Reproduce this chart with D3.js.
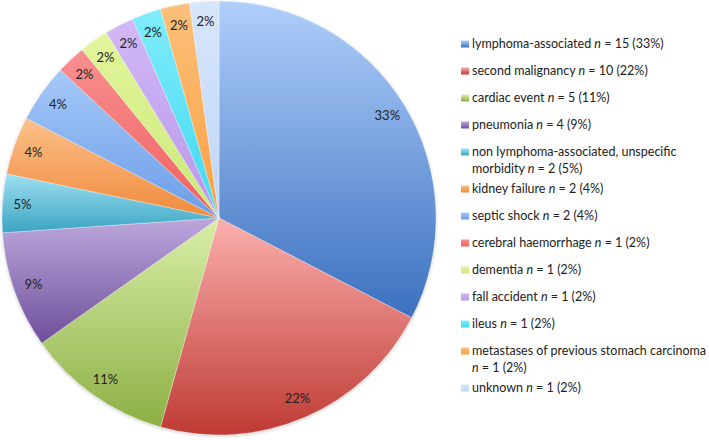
<!DOCTYPE html>
<html><head><meta charset="utf-8">
<script src="https://cdn.jsdelivr.net/npm/d3@7"></script>
<style>body{margin:0;background:#fff}svg{display:block}</style>
</head><body>
<svg id="c" width="709" height="440"></svg>
<script>
const categories = ["lymphoma-associated","second malignancy","cardiac event","pneumonia","non lymphoma-associated, unspecific morbidity","kidney failure","septic shock","cerebral haemorrhage","dementia","fall accident","ileus","metastases of previous stomach carcinoma","unknown"];
const counts = [15,10,5,4,2,2,2,1,1,1,1,1,1];
const percentLabels = ["33%","22%","11%","9%","5%","4%","4%","2%","2%","2%","2%","2%","2%"];
// legend text lines: [before n, n, after n]
const legendLines = [
  [["lymphoma-associated ","n"," = 15 (33%)"]],
  [["second malignancy ","n"," = 10 (22%)"]],
  [["cardiac event ","n"," = 5 (11%)"]],
  [["pneumonia ","n"," = 4 (9%)"]],
  [["non lymphoma-associated, unspecific"],["morbidity ","n"," = 2 (5%)"]],
  [["kidney failure ","n"," = 2 (4%)"]],
  [["septic shock ","n"," = 2 (4%)"]],
  [["cerebral haemorrhage ","n"," = 1 (2%)"]],
  [["dementia ","n"," = 1 (2%)"]],
  [["fall accident ","n"," = 1 (2%)"]],
  [["ileus ","n"," = 1 (2%)"]],
  [["metastases of previous stomach carcinoma"],["","n"," = 1 (2%)"]],
  [["unknown ","n"," = 1 (2%)"]]
];
const colorsTop = ["#b0cffb","#fbb0ae","#d9efa8","#bca8dc","#9fe0f2","#fcc08a","#a6c8f8","#f89090","#e2f59c","#d2b8f6","#80ecfb","#fdc07a","#d6e6fb"];
const colorsBot = ["#3b70bf","#bf3a34","#8caf45","#6e4f9a","#3ba4c2","#f08a3c","#6a9ee8","#f06060","#cbe878","#b898ea","#40d8f0","#f8a040","#c0d6f6"];

const svg = d3.select("#c");
const defs = svg.append("defs");
const cx = 219, cy = 218, R = 217;

categories.forEach((c,i)=>{
  const g = defs.append("linearGradient").attr("id","g"+i).attr("x1",0).attr("y1",0).attr("x2",0).attr("y2",1);
  g.append("stop").attr("offset","0%").attr("stop-color",colorsTop[i]);
  g.append("stop").attr("offset","100%").attr("stop-color",colorsBot[i]);
});
const sh = defs.append("filter").attr("id","sh").attr("x","-5%").attr("y","-5%").attr("width","110%").attr("height","110%");
sh.append("feGaussianBlur").attr("in","SourceAlpha").attr("stdDeviation",1.5);
sh.append("feOffset").attr("dx",0).attr("dy",1).attr("result","b");
sh.append("feComponentTransfer").append("feFuncA").attr("type","linear").attr("slope",0.25);
const m = sh.append("feMerge"); m.append("feMergeNode"); m.append("feMergeNode").attr("in","SourceGraphic");

const pie = d3.pie().sort(null).value(d=>d);
const arcs = pie(counts);
const arc = d3.arc().innerRadius(0).outerRadius(R);
const labelArc = d3.arc().innerRadius(197).outerRadius(197);

const gp = svg.append("g").attr("transform",`translate(${cx},${cy})`).attr("filter","url(#sh)");
gp.selectAll("path").data(arcs).join("path")
  .attr("d",arc).attr("fill",(d,i)=>`url(#g${i})`)
  .attr("stroke","rgba(255,255,255,0.45)").attr("stroke-width",0.7);

svg.append("g").attr("transform",`translate(${cx},${cy})`)
  .selectAll("text").data(arcs).join("text")
  .attr("transform",d=>`translate(${labelArc.centroid(d)})`)
  .attr("text-anchor","middle").attr("dy","0.35em")
  .attr("font-family","Lato, 'Liberation Sans', sans-serif").attr("font-size",13).attr("fill","#222")
  .text((d,i)=>percentLabels[i]);

// legend
const lg = svg.append("g");
const step = 27, extra = 10, lineH = 17, x0 = 461, y0 = 44;
let y = y0;
legendLines.forEach((lines,i)=>{
  lg.append("rect").attr("x",x0).attr("y",y-3.5).attr("width",8).attr("height",7).attr("fill",`url(#g${i})`);
  lines.forEach((parts,li)=>{
    const t = lg.append("text").attr("x",x0+11).attr("y",y+li*lineH).attr("dy","0.35em")
      .attr("font-family","Lato, 'Liberation Sans', sans-serif").attr("font-size",12.5).attr("fill","#222");
    parts.forEach((p,pi)=>{
      const ts = t.append("tspan").text(p);
      if(pi===1) ts.attr("font-style","italic");
    });
  });
  y += step + (lines.length-1)*extra;
});
</script>
</body></html>
